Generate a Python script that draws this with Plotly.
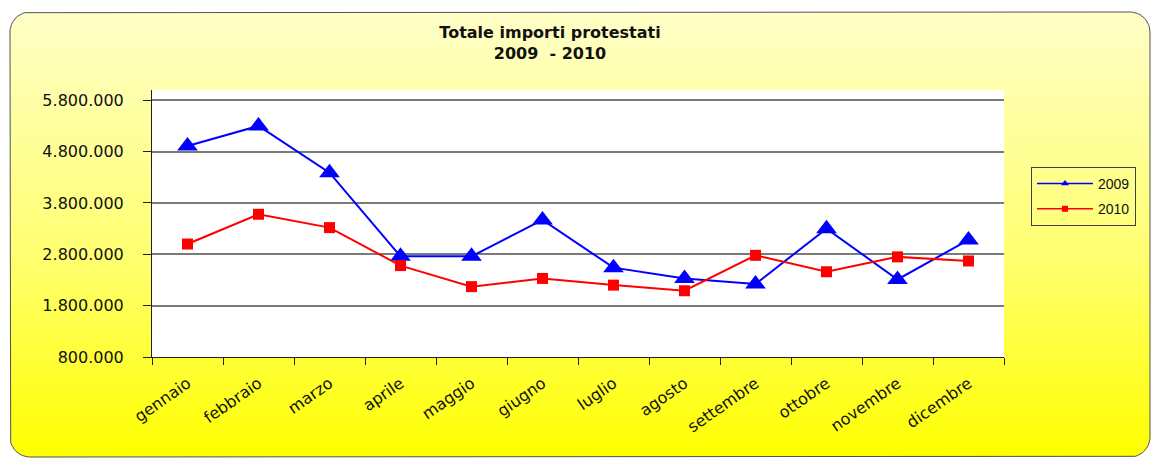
import math
import plotly.graph_objects as go

# ---- data ----
months = ['gennaio', 'febbraio', 'marzo', 'aprile', 'maggio', 'giugno',
          'luglio', 'agosto', 'settembre', 'ottobre', 'novembre', 'dicembre']
v2009 = [4910000, 5300000, 4390000, 2760000, 2760000, 3470000,
         2540000, 2330000, 2220000, 3300000, 2310000, 3080000]
v2010 = [3000000, 3580000, 3320000, 2580000, 2170000, 2330000,
         2200000, 2090000, 2780000, 2460000, 2750000, 2670000]
y_ticks = [800000, 1800000, 2800000, 3800000, 4800000, 5800000]
series_names = ['2009', '2010']
title_lines = ['Totale importi protestati', '2009\u00a0 - 2010']

W, H = 1161, 459
OFFX, OFFY = 8, 8  # page body margin compensation
# plot area in page pixels (left, right, top, bottom), shifted to figure px
PL, PR, PT, PB = 152 - OFFX, 1004 - OFFX, 90 - OFFY, 357 - OFFY

def rounded_rect(x0, y0, x1, y1, r, n=12):
    """Return x,y lists (y up) of a rounded rectangle outline."""
    xs, ys = [], []
    corners = [(x1 - r, y1 - r, 0), (x0 + r, y1 - r, 90),
               (x0 + r, y0 + r, 180), (x1 - r, y0 + r, 270)]
    for cx, cy, a0 in corners:
        for k in range(n + 1):
            a = math.radians(a0 + 90 * k / n)
            xs.append(cx + r * math.cos(a))
            ys.append(cy + r * math.sin(a))
    xs.append(xs[0]); ys.append(ys[0])
    return xs, ys

fig = go.Figure()

# background chart area (rounded, gradient) on full-canvas helper axes
bx, by = rounded_rect(10 - OFFX, H - (457 - OFFY), 1150 - OFFX, H - (12 - OFFY), 20)
fig.add_trace(go.Scatter(
    x=bx, y=by, mode='lines', fill='toself',
    fillgradient=dict(type='vertical',
                      colorscale=[[0, '#FFFF00'], [0.45, '#FFFF70'], [1, '#FFFFC8']]),
    line=dict(color='#505050', width=1),
    hoverinfo='skip', showlegend=False, xaxis='x', yaxis='y'))
# white plot area
fig.add_trace(go.Scatter(
    x=[PL, PR, PR, PL, PL], y=[H - PB, H - PB, H - PT, H - PT, H - PB],
    mode='lines', fill='toself', fillcolor='white',
    line=dict(width=0, color='white'),
    hoverinfo='skip', showlegend=False, xaxis='x', yaxis='y'))

styles = [
    dict(color='#0000FF', symbol='triangle-up', size=18, lsize=7),
    dict(color='#FF0000', symbol='square', size=11, lsize=6),
]
for name, vals, st, grp in zip(series_names, [v2009, v2010], styles, ['a', 'b']):
    fig.add_trace(go.Scatter(
        x=months, y=vals, name=name, mode='lines+markers',
        line=dict(color=st['color'], width=2),
        marker=dict(symbol=st['symbol'], size=st['size'], color=st['color']),
        xaxis='x2', yaxis='y2', showlegend=False, legendgroup=grp))
    # legend entry with small marker, like the original
    fig.add_trace(go.Scatter(
        x=[None], y=[None], name=name, mode='lines+markers',
        line=dict(color=st['color'], width=1.5),
        marker=dict(symbol=st['symbol'], size=st['lsize'], color=st['color']),
        xaxis='x2', yaxis='y2', showlegend=True, legendgroup=grp,
        hoverinfo='skip'))

fig.update_layout(
    width=W, height=H,
    margin=dict(l=0, r=0, t=0, b=0, autoexpand=False),
    paper_bgcolor='white',
    plot_bgcolor='rgba(0,0,0,0)',
    separators=',.',
    font=dict(family='DejaVu Sans', color='#111111'),
    title=dict(text='<b>' + '<br>'.join(title_lines) + '</b>',
               x=(550 - OFFX) / W, xanchor='center', y=1 - (38 - OFFY) / H,
               yanchor='middle', automargin=False,
               font=dict(family='DejaVu Sans', size=16, color='#111111')),
    xaxis=dict(domain=[0, 1], range=[0, W], visible=False, fixedrange=True,
               automargin=False),
    yaxis=dict(domain=[0, 1], range=[0, H], visible=False, fixedrange=True,
               automargin=False),
    xaxis2=dict(domain=[PL / W, PR / W], anchor='y2', type='category',
                range=[-0.5, len(months) - 0.5], automargin=False,
                showline=True, linecolor='#202020', linewidth=1,
                ticks='outside', ticklen=7, tickcolor='#202020',
                tickson='boundaries', showgrid=False, tickangle=-35,
                ticklabelstandoff=10,
                tickfont=dict(family='DejaVu Sans', size=16, color='#111111')),
    yaxis2=dict(domain=[1 - PB / H, 1 - PT / H], anchor='x2',
                range=[800000, 6000000], tickvals=y_ticks, tickformat=',d',
                automargin=False,
                showline=True, linecolor='#202020', linewidth=1,
                ticks='outside', ticklen=8, tickcolor='#202020',
                showgrid=True, gridcolor='#7a7a7a', gridwidth=1.5,
                zeroline=False, ticklabelstandoff=16,
                tickfont=dict(family='DejaVu Sans', size=16, color='#111111')),
    legend=dict(x=(1031 - OFFX) / W, y=1 - (167 - OFFY) / H,
                xanchor='left', yanchor='top',
                bgcolor='rgba(0,0,0,0)', bordercolor='#404040', borderwidth=1,
                font=dict(family='Liberation Sans', size=14, color='#111111'),
                itemwidth=56, tracegroupgap=4, traceorder='grouped'),
    showlegend=True,
)

fig.write_html('out.html')
